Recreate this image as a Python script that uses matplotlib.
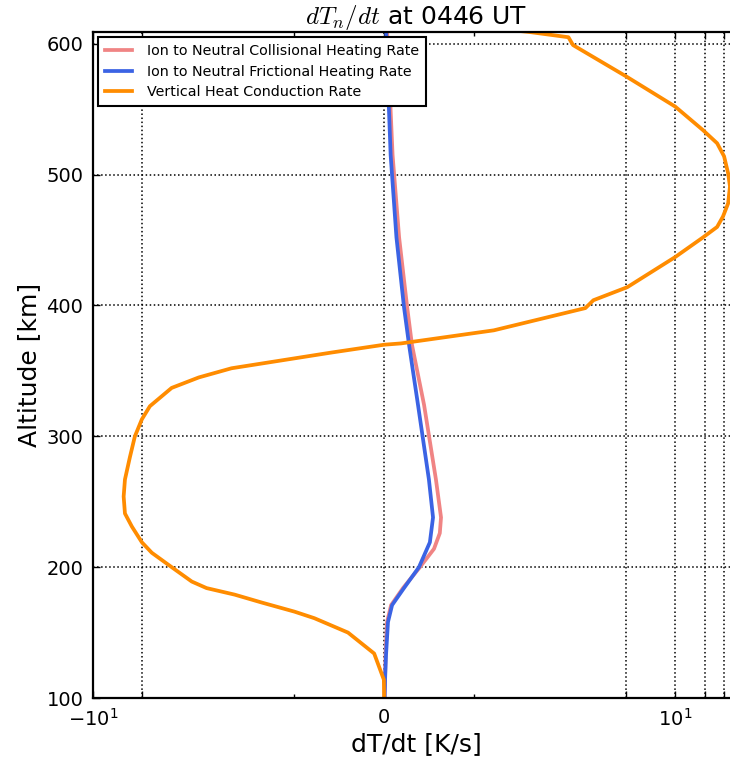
import matplotlib
matplotlib.use("Agg")
import matplotlib.pyplot as plt
import numpy as np

# altitude [km] and heating rates [K/s]
alt_orange = [101, 114, 134, 150, 161, 166, 173, 179, 184, 189, 200, 211, 219, 231, 241,
              254, 267, 284, 300, 313, 323, 337, 345, 352, 358, 364, 370, 371, 381, 398,
              404, 414, 437, 452, 460, 468, 478, 491, 501, 514, 524, 534, 552, 575, 599,
              605, 609, 612]
rate_orange = [0.0, -0.001, -0.041, -0.149, -0.288, -0.370, -0.506, -0.617, -0.733, -0.794,
               -0.877, -0.959, -1.0, -1.6, -2.22, -2.36, -2.22, -1.76, -1.39, -1.0, -0.967,
               -0.877, -0.765, -0.630, -0.424, -0.218, 0.0, 0.07, 0.453, 0.831, 0.864, 1.05,
               10.0, 37.0, 72.0, 95.0, 121.0, 132.0, 121.0, 100.0, 72.0, 37.0, 10.0, 1.0,
               0.78, 0.761, 0.6, 0.44]

alt_blue = [100, 114, 133, 158, 171, 184, 200, 219, 238, 267, 324, 370, 399, 452, 515, 600, 612]
rate_blue = [0.002, 0.004, 0.008, 0.016, 0.033, 0.082, 0.144, 0.189, 0.202, 0.185, 0.140,
             0.103, 0.082, 0.051, 0.027, 0.010, 0.008]

alt_red = [100, 133, 158, 171, 184, 200, 214, 226, 238, 267, 324, 370, 399, 452, 515, 612]
rate_red = [0.002, 0.006, 0.012, 0.029, 0.078, 0.148, 0.206, 0.230, 0.235, 0.214, 0.165,
            0.115, 0.095, 0.062, 0.035, 0.012]

xtick_vals = [-10, -1, 0, 1, 10, 40, 100]
xtick_text = [r'$\mathdefault{-10^{1}}$', '', '0', '', r'$\mathdefault{10^{1}}$', '', '']
ytick_vals = [100, 200, 300, 400, 500, 600]

plt.rcParams['mathtext.fontset'] = 'cm'

fig = plt.figure(figsize=(7.30, 7.61), dpi=100)
ax = fig.add_axes([93 / 730, 63 / 761, 646 / 730, 666 / 761])

ax.plot(rate_red, alt_red, color='#f08484', lw=2.7, label='Ion to Neutral Collisional Heating Rate')
ax.plot(rate_blue, alt_blue, color='#3b63e4', lw=2.7, label='Ion to Neutral Frictional Heating Rate')
ax.plot(rate_orange, alt_orange, color='#ff8c00', lw=2.7, label='Vertical Heat Conduction Rate')

ax.set_xscale('symlog', linthresh=1, linscale=4.46)
ax.set_xlim(-10, 202)
ax.set_ylim(100, 609)

ax.set_xticks(xtick_vals)
ax.set_xticklabels(xtick_text)
ax.set_xticks([-0.37, 0.37], minor=True)
ax.set_yticks(ytick_vals)

ax.tick_params(which='both', direction='in', top=True, right=True, labelsize=14)
ax.tick_params(which='major', length=5, width=1)
ax.tick_params(which='minor', length=3, width=1)
ax.tick_params(axis='y', pad=7)
ax.tick_params(axis='x', pad=7)

ax.grid(True, which='major', linestyle=':', color='black', lw=1.1)
for s in ax.spines.values():
    s.set_linewidth(1.6)

ax.set_xlabel('dT/dt [K/s]', fontsize=18, labelpad=2)
ax.set_ylabel('Altitude [km]', fontsize=18)
ax.set_title(r'$dT_n/dt$ at 0446 UT', fontsize=18, pad=4)

leg = ax.legend(loc='upper left', fontsize=10.3, handlelength=1.9, handletextpad=1.0,
                fancybox=False, framealpha=1, borderaxespad=0.35, labelspacing=0.45,
                borderpad=0.5)
leg.get_frame().set_edgecolor('black')
leg.get_frame().set_linewidth(1.5)

fig.savefig('out.png', dpi=100)
